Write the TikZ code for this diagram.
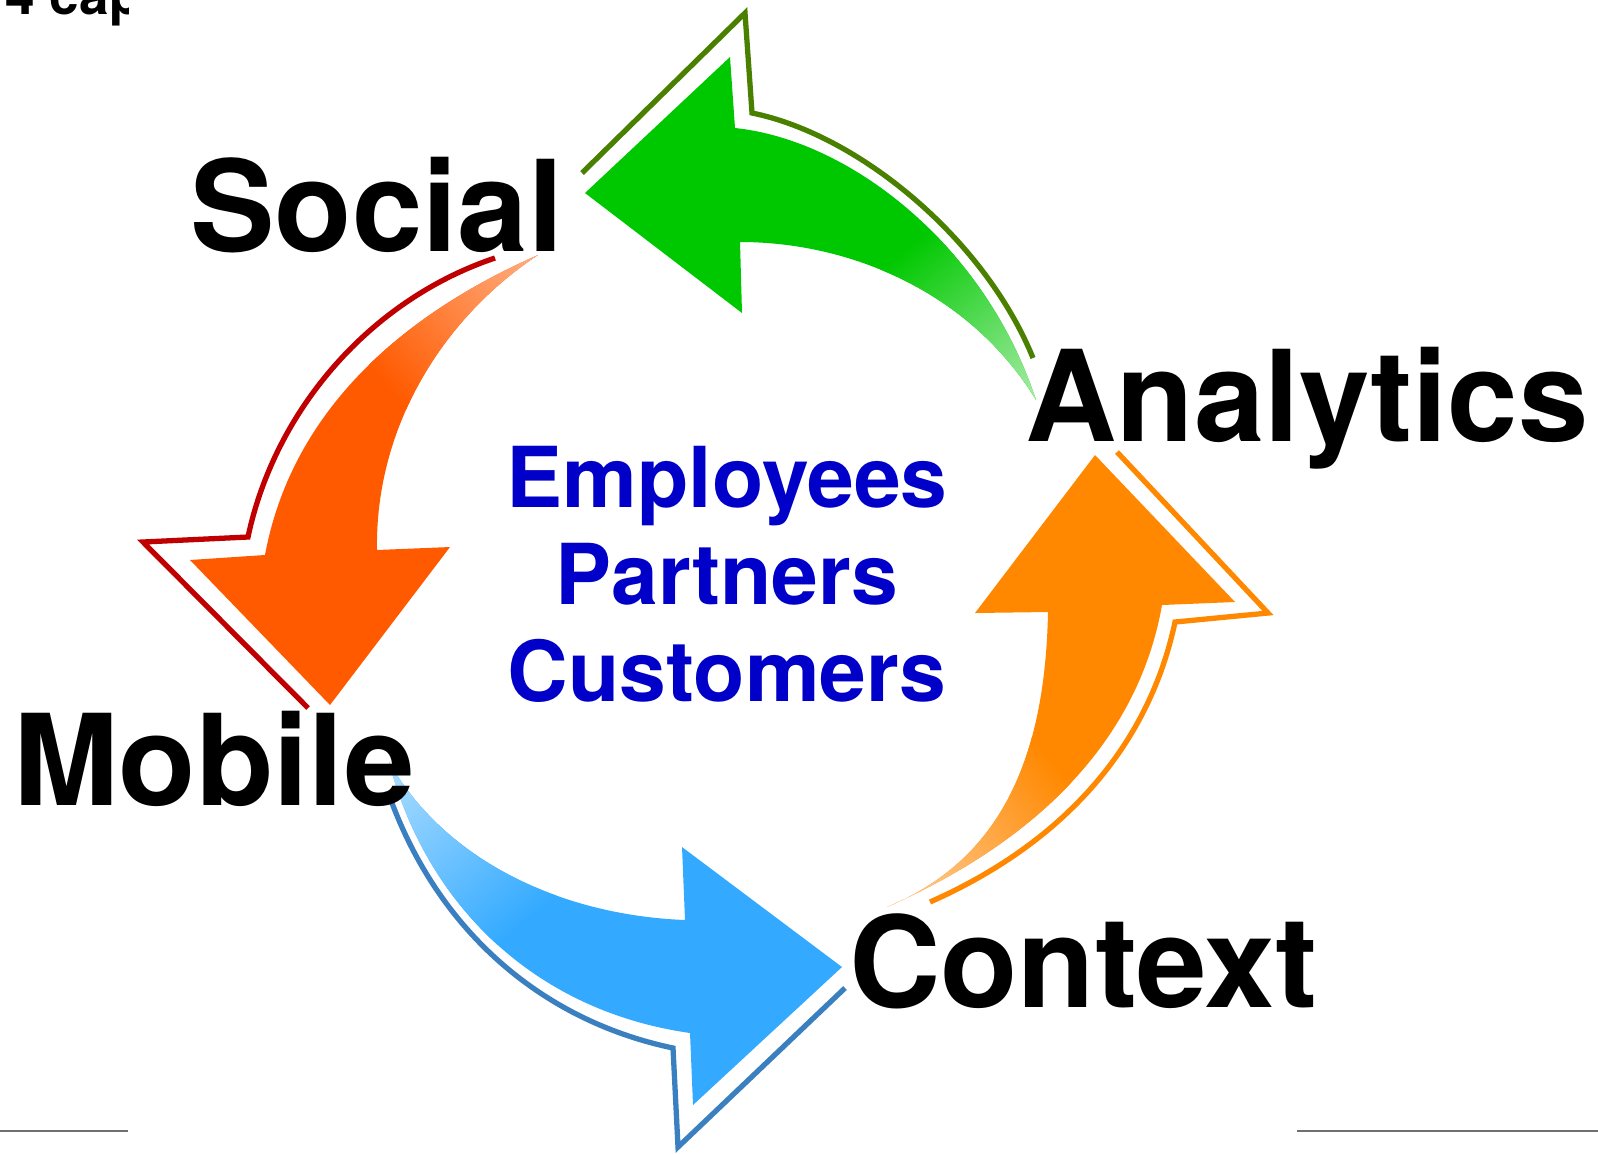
\documentclass[tikz,border=0pt]{standalone}
\usepackage{fontspec}
\newfontfamily\hv{TeX Gyre Heros}
\definecolor{gfill}{RGB}{0,200,0}
\definecolor{glight}{RGB}{175,238,175}
\definecolor{gline}{RGB}{74,128,0}
\definecolor{rfill}{RGB}{255,90,0}
\definecolor{rlight}{RGB}{255,180,138}
\definecolor{rline}{RGB}{192,0,0}
\definecolor{bfill}{RGB}{51,170,255}
\definecolor{blight}{RGB}{180,224,255}
\definecolor{bline}{RGB}{58,128,192}
\definecolor{ofill}{RGB}{255,136,0}
\definecolor{olight}{RGB}{255,214,170}
\definecolor{oline}{RGB}{255,136,0}
\definecolor{tblue}{RGB}{0,0,200}
\definecolor{rulegray}{RGB}{112,112,112}
\tikzset{
  lab/.style={font=\hv\bfseries\fontsize{36}{40}\selectfont, anchor=base, inner sep=0pt, text=black},
  grp/.style={font=\hv\bfseries\fontsize{23.9}{28}\selectfont, text=tblue, anchor=base, inner sep=0pt},
  outl/.style={line width=1.5pt, line join=miter},
  rulel/.style={draw=rulegray, line width=0.6pt}
}
\begin{document}
\begin{tikzpicture}[x=0.01cm,y=-0.01cm]
\useasboundingbox (0,0) rectangle (1598,1154);

% ---- green arrow (Analytics -> Social)
\begin{scope}
  \clip (585,193) -- (730,57) -- (735,128) .. controls (850,140) and (985,245) .. (1036,400)
        .. controls (970,292) and (850,242) .. (740,242) -- (742,313) -- cycle;
  \fill[gfill] (500,0) rectangle (1100,450);
  \shade[transform canvas={shift={(1036,400)},rotate=-50},left color=gfill,right color=glight]
     (-200,-260) rectangle (10,260);
\end{scope}
\draw[outl,gline] (582,173) -- (745,13) -- (752,113) .. controls (860,135) and (985,240) .. (1033,358);

% ---- red-orange arrow (Social -> Mobile)
\begin{scope}
  \clip (538,255) .. controls (390,320) and (290,420) .. (265,555) -- (190,560) -- (330,705)
        -- (450,547) -- (377,550) .. controls (375,430) and (440,320) .. (538,255) -- cycle;
  \fill[rfill] (150,230) rectangle (560,720);
  \shade[transform canvas={shift={(538,255)},rotate=40},left color=rfill,right color=rlight]
     (-200,-260) rectangle (10,260);
\end{scope}
\draw[outl,rline] (495,258) .. controls (370,300) and (275,410) .. (248,537) -- (143,542) -- (308,708);

% ---- blue arrow (Mobile -> Context)
\begin{scope}
  \clip (389,762) .. controls (425,900) and (530,1010) .. (690,1033) -- (693,1105) -- (842,967)
        -- (682,847) -- (685,920) .. controls (560,915) and (445,860) .. (389,762) -- cycle;
  \fill[bfill] (370,740) rectangle (860,1120);
  \shade[transform canvas={shift={(389,762)},rotate=130},left color=bfill,right color=blight]
     (-210,-260) rectangle (10,260);
\end{scope}
\draw[outl,bline] (392,803) .. controls (440,930) and (540,1020) .. (673,1048) -- (678,1147) -- (845,988);

% ---- orange arrow (Context -> Analytics)
\begin{scope}
  \clip (887,907) .. controls (1050,835) and (1140,730) .. (1162,605) -- (1235,602) -- (1095,455)
        -- (975,613) -- (1048,612) .. controls (1045,760) and (1000,860) .. (887,907) -- cycle;
  \fill[ofill] (870,440) rectangle (1250,920);
  \shade[transform canvas={shift={(887,907)},rotate=-140},left color=ofill,right color=olight]
     (-220,-260) rectangle (10,260);
\end{scope}
\draw[outl,oline] (930,902) .. controls (1070,840) and (1150,740) .. (1175,622) -- (1268,613) -- (1117,452);

% ---- labels
\node[lab] (social) at (377,251) {Social};
\node[lab] (analytics) at (1307,441) {Analytics};
\node[lab] (mobile) at (214,805) {Mobile};
\node[lab] (context) at (1083,1007) {Context};

\node[grp] (employees) at (727,507) {Employees};
\node[grp] (partners) at (727,604) {Partners};
\node[grp] (customers) at (727,701) {Customers};

% ---- clipped caption fragment, top left
\begin{scope}
  \clip (0,0) rectangle (128,40);
  \node[anchor=base west, inner sep=0pt, font=\hv\bfseries\fontsize{15.1}{18}\selectfont] (cap) at (5,14) {4 cap};
\end{scope}

% ---- bottom rules
\coordinate (la) at (0,1131);
\coordinate (lb) at (128,1131);
\coordinate (ra) at (1297,1131);
\coordinate (rb) at (1598,1131);
\draw[rulel] (la) -- (lb);
\draw[rulel] (ra) -- (rb);
\end{tikzpicture}
\end{document}
